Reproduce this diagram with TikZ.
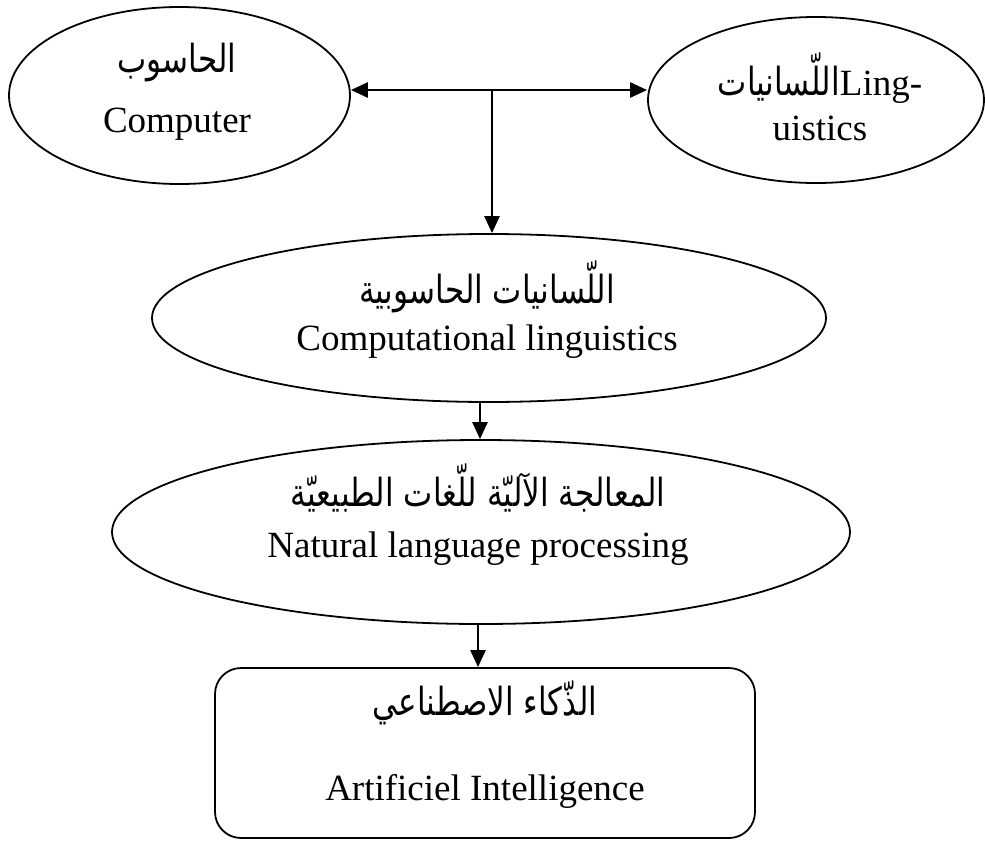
\documentclass[tikz,border=0pt]{standalone}
\usepackage{fontspec}
\usepackage{graphicx}
\setmainfont{Liberation Serif}
\newfontfamily\arabicfont[Script=Arabic]{DejaVu Sans}
\TeXXeTstate=1
\newcommand{\artxt}[1]{\scalebox{1}[1.25]{\arabicfont\beginR #1\endR}}
\usetikzlibrary{shapes.geometric,arrows.meta}
\begin{document}
\begin{tikzpicture}[x=1pt,y=-1pt,
  ell/.style={draw, ellipse, line width=1.8pt, inner sep=0pt},
  boxnode/.style={draw, rectangle, rounded corners=26pt, line width=1.8pt, inner sep=0pt},
  lat/.style={anchor=base, font=\fontsize{37}{40}\selectfont, inner sep=0pt},
  ara/.style={anchor=base, font=\fontsize{31}{36}\selectfont, inner sep=0pt},
  arr/.style={line width=2.6pt, -{Triangle[length=17pt,width=15pt]}}]
\useasboundingbox (0,0) rectangle (985,841);
% shapes
\node[ell, minimum width=341pt, minimum height=177pt] (comp) at (179.5,95.5) {};
\node[ell, minimum width=336pt, minimum height=166pt] (ling) at (816,100) {};
\node[ell, minimum width=674pt, minimum height=168pt] (cl) at (489,318) {};
\node[ell, minimum width=738pt, minimum height=184pt] (nlp) at (481,532) {};
\node[boxnode, minimum width=540pt, minimum height=170pt] (ai) at (485,753) {};
% texts
\node[ara] (t1a) at (177,72) {\artxt{الحاسوب}};
\node[lat] (t1b) at (177,132) {Computer};
\node[lat] (t2a) at (820,95) {{\fontsize{31}{36}\selectfont\artxt{اللّسانيات}}Ling-};
\node[lat] (t2b) at (820,140) {uistics};
\node[ara] (t3a) at (487,303) {\artxt{اللّسانيات الحاسوبية}};
\node[lat] (t3b) at (487,350) {Computational linguistics};
\node[ara] (t4a) at (478,506) {\artxt{المعالجة الآليّة للّغات الطبيعيّة}};
\node[lat] (t4b) at (478,557) {Natural language processing};
\node[ara] (t5a) at (485,715) {\artxt{الذّكاء الاصطناعي}};
\node[lat] (t5b) at (485,800) {Artificiel Intelligence};
% connectors
\coordinate (j) at (492,90);
\draw[arr] (j) -- (j -| comp.east);
\draw[arr] (j) -- (j -| ling.west);
\draw[arr] (j) -- (j |- cl.north);
\draw[arr] ([xshift=-9pt]cl.south) -- ([xshift=-9pt]cl.south |- nlp.north);
\draw[arr] ([xshift=-3pt]nlp.south) -- ([xshift=-3pt]nlp.south |- ai.north);
\end{tikzpicture}
\end{document}
